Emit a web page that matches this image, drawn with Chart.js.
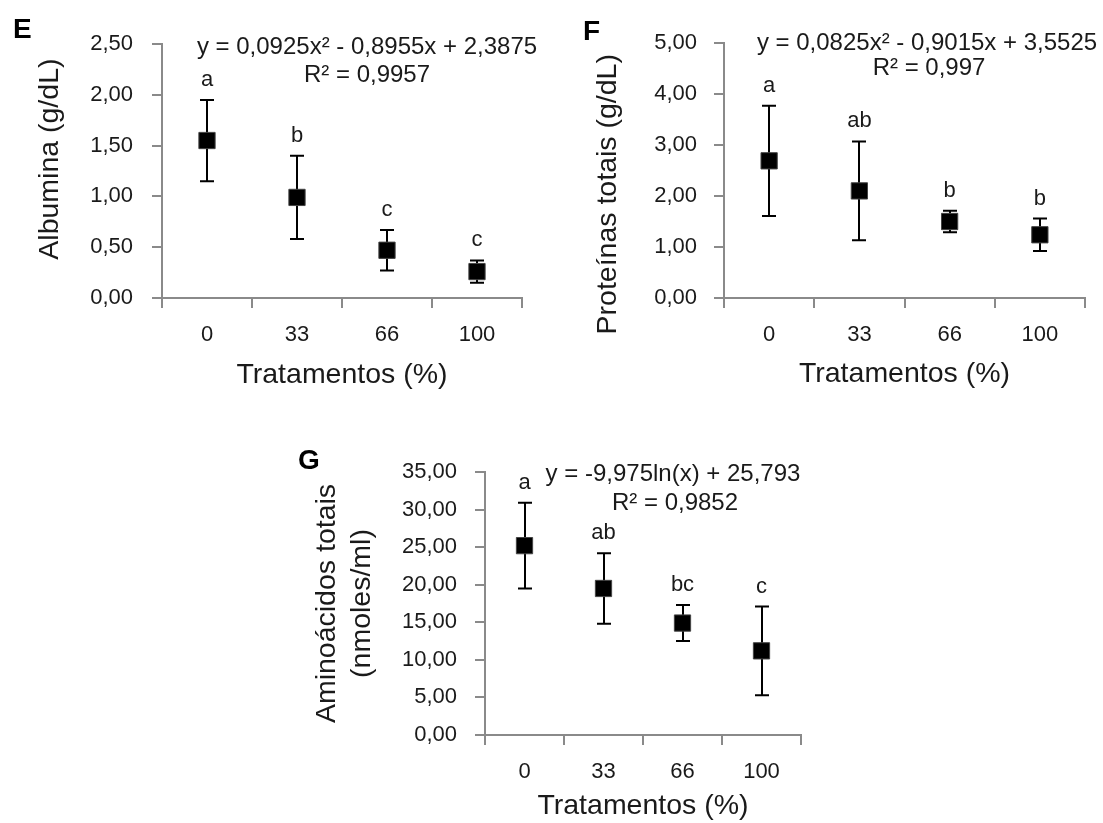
<!DOCTYPE html>
<html><head><meta charset="utf-8">
<script src="https://cdn.jsdelivr.net/npm/chart.js@4/dist/chart.umd.min.js"></script>
<style>html,body{margin:0;padding:0;background:#fff;width:1103px;height:823px;overflow:hidden;} canvas{position:absolute;left:0;top:0;}</style>
</head><body>
<canvas id="cE" width="1103" height="823"></canvas>
<canvas id="cF" width="1103" height="823"></canvas>
<canvas id="cG" width="1103" height="823"></canvas>
<script>
// ---- data ----
const treatments = ['0', '33', '66', '100'];

const albuminaMean = [1.55, 0.99, 0.47, 0.26];
const albuminaErr = [0.40, 0.41, 0.20, 0.11];
const albuminaLetters = ['a', 'b', 'c', 'c'];
const albuminaEq = ['y = 0,0925x² - 0,8955x + 2,3875', 'R² = 0,9957'];

const proteinasMean = [2.69, 2.10, 1.50, 1.24];
const proteinasErr = [1.08, 0.97, 0.21, 0.32];
const proteinasLetters = ['a', 'ab', 'b', 'b'];
const proteinasEq = ['y = 0,0825x² - 0,9015x + 3,5525', 'R² = 0,997'];

const aminoMean = [25.2, 19.5, 14.9, 11.2];
const aminoErr = [5.7, 4.7, 2.4, 5.9];
const aminoLetters = ['a', 'ab', 'bc', 'c'];
const aminoEq = ['y = -9,975ln(x) + 25,793', 'R² = 0,9852'];

// ---- styling ----
const FONT = "'Liberation Sans', Arial, sans-serif";
const AXIS = '#8a8a8a';
const TXT = '#1a1a1a';

function makeExtras(id, means, errs, letters, eq, eqPos, panel, panelPos) {
  return {
    id: 'extras' + id,
    beforeDatasetsDraw(chart) {
      const ctx = chart.ctx, xs = chart.scales.x, ys = chart.scales.y;
      ctx.save();
      ctx.strokeStyle = '#000';
      ctx.lineWidth = 2;
      means.forEach((m, i) => {
        const x = Math.round(xs.getPixelForValue(i));
        const yt = ys.getPixelForValue(m + errs[i]);
        const yb = ys.getPixelForValue(m - errs[i]);
        ctx.beginPath();
        ctx.moveTo(x, yt); ctx.lineTo(x, yb);
        ctx.moveTo(x - 7, yt); ctx.lineTo(x + 7, yt);
        ctx.moveTo(x - 7, yb); ctx.lineTo(x + 7, yb);
        ctx.stroke();
      });
      ctx.restore();
    },
    afterDraw(chart) {
      const ctx = chart.ctx, xs = chart.scales.x, ys = chart.scales.y;
      ctx.save();
      ctx.fillStyle = TXT;
      ctx.textAlign = 'center';
      ctx.textBaseline = 'middle';
      ctx.font = '22px ' + FONT;
      letters.forEach((l, i) => {
        const x = xs.getPixelForValue(i);
        const y = ys.getPixelForValue(means[i] + errs[i]) - 20;
        ctx.fillText(l, x, y);
      });
      ctx.font = '24px ' + FONT;
      eq.forEach((t, k) => ctx.fillText(t, eqPos[k][0], eqPos[k][1]));
      ctx.font = 'bold 28px ' + FONT;
      ctx.fillStyle = '#000';
      ctx.textAlign = 'left';
      ctx.textBaseline = 'alphabetic';
      ctx.fillText(panel, panelPos[0], panelPos[1]);
      ctx.restore();
    }
  };
}

function fmt(v) { return Number(v).toFixed(2).replace('.', ','); }

function makeChart(canvasId, cfg) {
  const area = cfg.area; // [left, right, top, bottom]
  const W = 1103, H = 823;
  return new Chart(document.getElementById(canvasId), {
    type: 'line',
    data: {
      labels: treatments,
      datasets: [{
        data: cfg.means,
        showLine: false,
        pointStyle: 'rect',
        pointRadius: 11.5,
        pointBackgroundColor: '#000',
        pointBorderColor: '#444',
        pointBorderWidth: 1
      }]
    },
    options: {
      responsive: false,
      animation: false,
      events: [],
      layout: {
        padding: {
          left: area[0] - cfg.yWidth,
          right: W - area[1],
          top: area[2],
          bottom: H - area[3] - cfg.xHeight
        }
      },
      plugins: { legend: { display: false }, tooltip: { enabled: false } },
      scales: {
        x: {
          type: 'category',
          offset: true,
          afterFit: (s) => { s.height = cfg.xHeight; },
          grid: { offset: true, drawOnChartArea: false, drawTicks: true, tickLength: 10, color: AXIS, lineWidth: 2 },
          border: { display: true, color: AXIS, width: 2 },
          ticks: { color: TXT, font: { family: FONT, size: 22 }, padding: 14, maxRotation: 0 },
          title: { display: true, text: 'Tratamentos (%)', color: TXT,
                   font: { family: FONT, size: 28.5, lineHeight: 1.2 },
                   padding: { top: 0, bottom: cfg.xTitlePad } }
        },
        y: {
          min: 0, max: cfg.yMax,
          afterFit: (s) => { s.width = cfg.yWidth; },
          grid: { drawOnChartArea: false, drawTicks: true, tickLength: 10, color: AXIS, lineWidth: 2 },
          border: { display: true, color: AXIS, width: 2 },
          ticks: { stepSize: cfg.yStep, color: TXT, font: { family: FONT, size: 22 }, padding: cfg.yTickPad,
                   callback: (v) => fmt(v) },
          title: { display: true, text: cfg.yTitle, color: TXT,
                   font: { family: FONT, size: 28.5, lineHeight: 1.25 },
                   padding: { top: cfg.yTitlePad, bottom: 0 } }
        }
      }
    },
    plugins: [makeExtras(canvasId, cfg.means, cfg.errs, cfg.letters, cfg.eq, cfg.eqPos, cfg.panel, cfg.panelPos)]
  });
}

makeChart('cE', {
  area: [162, 522, 44, 298], yWidth: 150, xHeight: 100, xTitlePad: 6, yTitlePad: 20, yTickPad: 19,
  yMax: 2.5, yStep: 0.5, yTitle: '   Albumina (g/dL)',
  means: albuminaMean, errs: albuminaErr, letters: albuminaLetters,
  eq: albuminaEq, eqPos: [[367, 47], [367, 75]], panel: 'E', panelPos: [13, 38]
});

makeChart('cF', {
  area: [724, 1085, 43, 298], yWidth: 140, xHeight: 100, xTitlePad: 7, yTitlePad: 6, yTickPad: 17,
  yMax: 5, yStep: 1, yTitle: 'Proteínas totais (g/dL)      ',
  means: proteinasMean, errs: proteinasErr, letters: proteinasLetters,
  eq: proteinasEq, eqPos: [[927, 43], [929, 68]], panel: 'F', panelPos: [583, 40]
});

makeChart('cG', {
  area: [485, 801, 472, 735], yWidth: 180, xHeight: 88, xTitlePad: 0, yTitlePad: 4, yTickPad: 18,
  yMax: 35, yStep: 5, yTitle: ['Aminoácidos totais', '(nmoles/ml)'],
  means: aminoMean, errs: aminoErr, letters: aminoLetters,
  eq: aminoEq, eqPos: [[673, 474], [675, 503]], panel: 'G', panelPos: [298, 469]
});
</script>
</body></html>
